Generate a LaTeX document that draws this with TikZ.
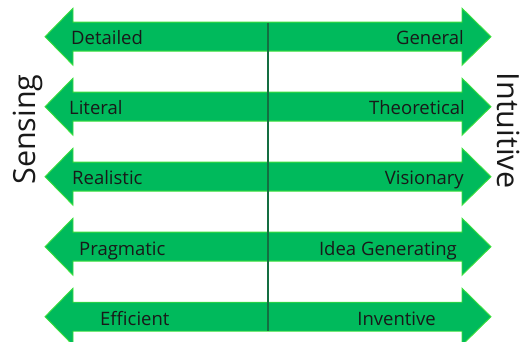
\documentclass[tikz,border=0pt]{standalone}
\usepackage{fontspec}
\setmainfont{Open Sans}
\usepackage{xcolor}
\definecolor{barfill}{RGB}{0,186,92}
\definecolor{baredge}{RGB}{60,224,60}
\definecolor{midline}{RGB}{20,110,65}
\definecolor{labeltext}{RGB}{25,25,25}

\tikzset{
  bar/.style={fill=barfill, draw=baredge, line width=0.9pt, line join=miter},
  trait/.style={text=labeltext, font=\fontsize{18.5}{18.5}\selectfont, inner sep=0pt},
  side/.style={text=labeltext, font=\fontsize{30.5}{30.5}\selectfont, inner sep=0pt}
}

\begin{document}
\begin{tikzpicture}[x=1pt,y=-1pt]
\useasboundingbox (0,0) rectangle (520,342);

\filldraw[bar] (45,36.7) -- (73,8.2) -- (73,22.2) -- (462,22.2) -- (462,8.2) -- (491,36.7) -- (462,65.2) -- (462,51.2) -- (73,51.2) -- (73,65.2) -- cycle;
\filldraw[bar] (45,106.7) -- (73,78.2) -- (73,92.2) -- (462,92.2) -- (462,78.2) -- (491,106.7) -- (462,135.2) -- (462,121.2) -- (73,121.2) -- (73,135.2) -- cycle;
\filldraw[bar] (45,176.7) -- (73,148.2) -- (73,162.2) -- (462,162.2) -- (462,148.2) -- (491,176.7) -- (462,205.2) -- (462,191.2) -- (73,191.2) -- (73,205.2) -- cycle;
\filldraw[bar] (45,246.7) -- (73,218.2) -- (73,232.2) -- (462,232.2) -- (462,218.2) -- (491,246.7) -- (462,275.2) -- (462,261.2) -- (73,261.2) -- (73,275.2) -- cycle;
\filldraw[bar] (45,316.7) -- (73,288.2) -- (73,302.2) -- (462,302.2) -- (462,288.2) -- (491,316.7) -- (462,345.2) -- (462,331.2) -- (73,331.2) -- (73,345.2) -- cycle;

\coordinate (top) at (268,22.7);
\coordinate (bottom) at (268,330.5);
\draw[midline, line width=1.6pt] (top) -- (bottom);

\node[trait, anchor=base west] (detailed) at (71,45) {Detailed};
\node[trait, anchor=base west] (literal) at (69,115) {Literal};
\node[trait, anchor=base west] (realistic) at (72,185) {Realistic};
\node[trait, anchor=base west] (pragmatic) at (79,255) {Pragmatic};
\node[trait, anchor=base west] (efficient) at (100,325) {Efficient};

\node[trait, anchor=base east] (general) at (464,45) {General};
\node[trait, anchor=base east] (theoretical) at (465,115) {Theoretical};
\node[trait, anchor=base east] (visionary) at (464,185) {Visionary};
\node[trait, anchor=base east] (ideagen) at (457,255) {Idea Generating};
\node[trait, anchor=base east] (inventive) at (436,325) {Inventive};

\node[side, anchor=base, rotate=90] (sensing) at (35,129.5) {Sensing};
\node[side, anchor=base, rotate=-90] (intuitive) at (497,130.5) {Intuitive};

\end{tikzpicture}
\end{document}
